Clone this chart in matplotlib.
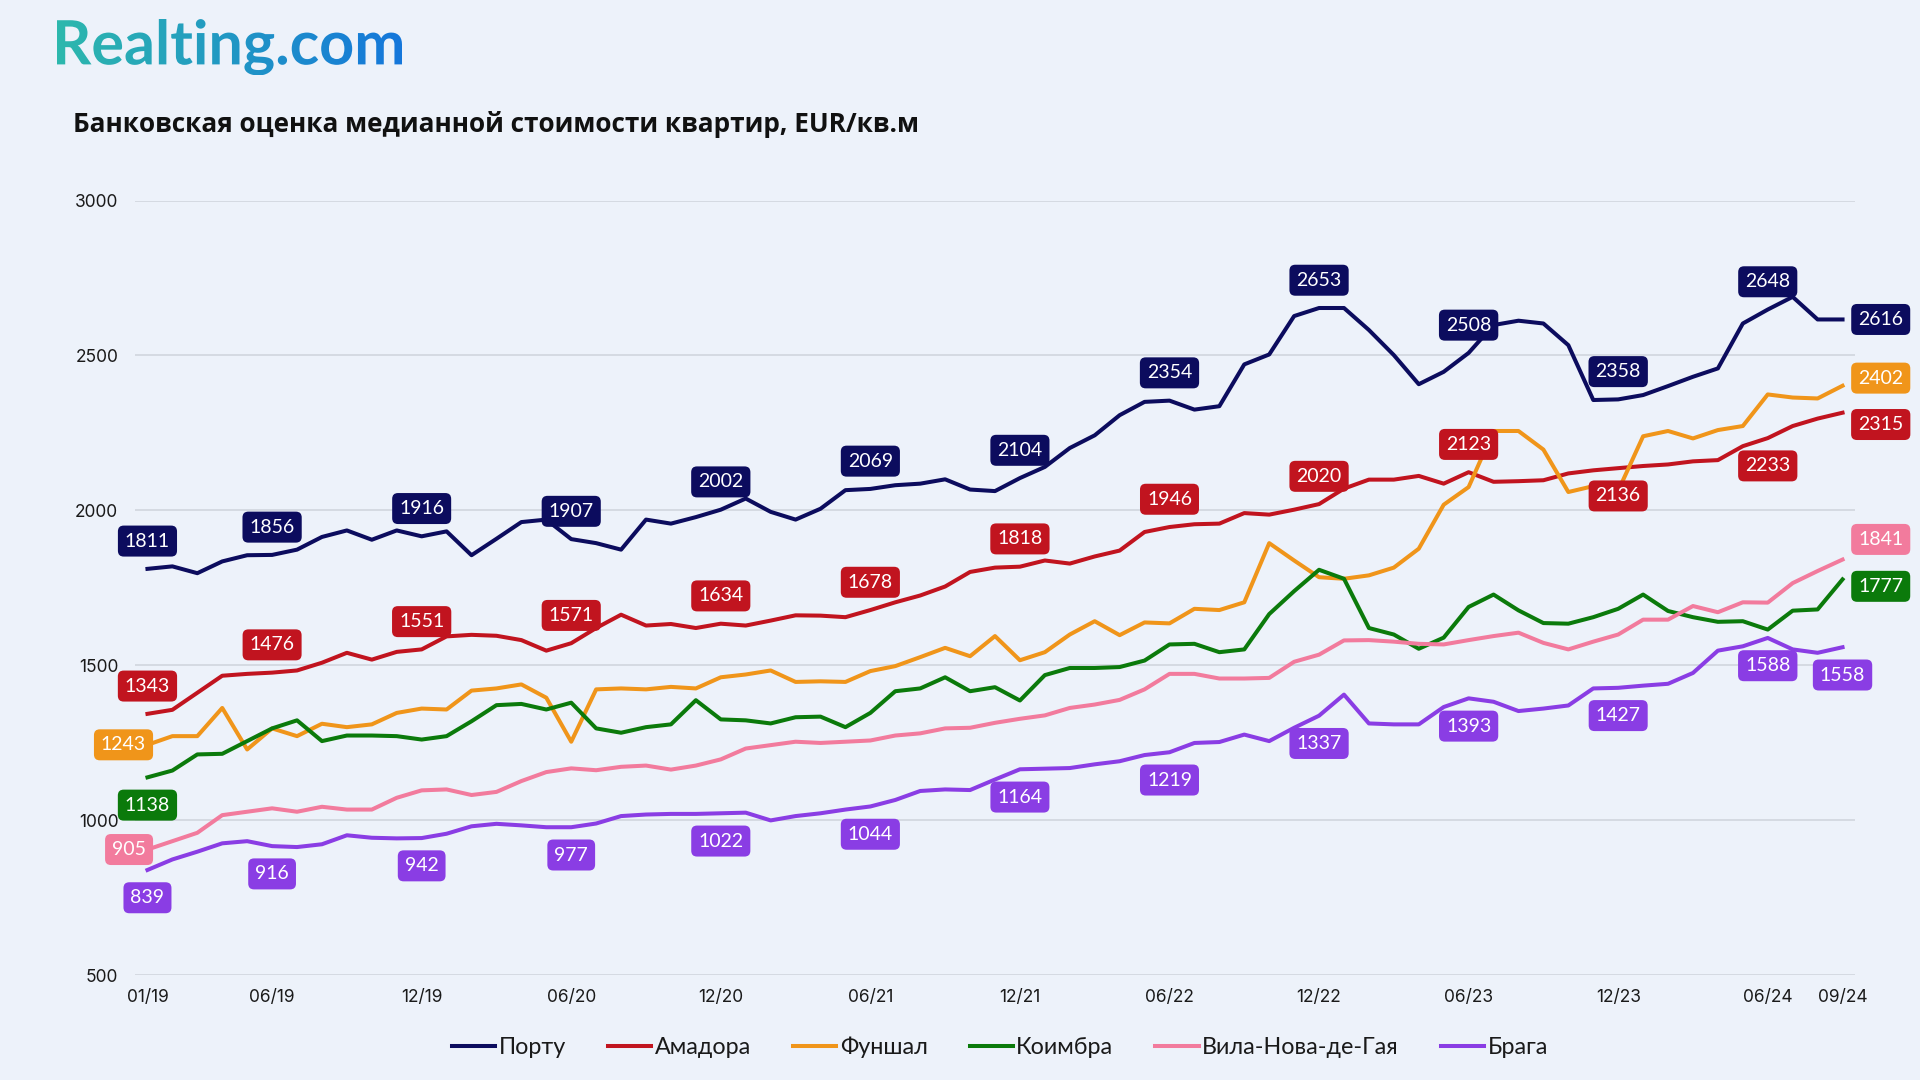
import numpy as np
import matplotlib
matplotlib.use("Agg")
import matplotlib.pyplot as plt
from matplotlib.textpath import TextPath
from matplotlib.patches import PathPatch
from matplotlib.font_manager import FontProperties
from matplotlib.colors import LinearSegmentedColormap

# %% data (EUR per sq.m, monthly 01/19 .. 09/24)
porto = [1811, 1819, 1797, 1835, 1855, 1856, 1873, 1914, 1935, 1905,
         1935, 1916, 1932, 1855, 1908, 1962, 1970, 1907, 1894, 1873,
         1970, 1957, 1978, 2002, 2038, 1995, 1970, 2005, 2065, 2069,
         2081, 2086, 2100, 2067, 2062, 2104, 2140, 2201, 2242, 2307,
         2350, 2354, 2325, 2336, 2471, 2503, 2627, 2653, 2653, 2582,
         2501, 2407, 2447, 2508, 2598, 2612, 2603, 2533, 2356, 2358,
         2372, 2401, 2431, 2458, 2603, 2648, 2689, 2616, 2616]
amadora = [1343, 1356, 1411, 1466, 1472, 1476, 1483, 1508, 1540, 1518,
           1543, 1551, 1593, 1598, 1595, 1581, 1547, 1571, 1620, 1663,
           1628, 1633, 1620, 1634, 1628, 1644, 1661, 1660, 1655, 1678,
           1703, 1725, 1754, 1801, 1815, 1818, 1838, 1828, 1851, 1870,
           1930, 1946, 1955, 1957, 1991, 1986, 2002, 2020, 2070, 2099,
           2099, 2111, 2086, 2123, 2092, 2094, 2097, 2119, 2129, 2136,
           2143, 2148, 2158, 2162, 2207, 2233, 2272, 2296, 2315]
funchal = [1243, 1271, 1271, 1362, 1228, 1296, 1271, 1311, 1300, 1309,
           1346, 1360, 1357, 1418, 1425, 1438, 1395, 1253, 1422, 1425,
           1422, 1430, 1425, 1461, 1470, 1483, 1446, 1448, 1446, 1481,
           1497, 1526, 1556, 1529, 1594, 1516, 1542, 1599, 1642, 1597,
           1638, 1635, 1682, 1678, 1703, 1894, 1838, 1784, 1779, 1790,
           1815, 1876, 2018, 2075, 2256, 2256, 2196, 2059, 2078, 2063,
           2239, 2256, 2232, 2259, 2272, 2374, 2364, 2361, 2402]
coimbra = [1138, 1160, 1212, 1214, 1255, 1296, 1322, 1255, 1273, 1273,
           1271, 1260, 1271, 1319, 1371, 1375, 1357, 1379, 1296, 1282,
           1300, 1309, 1387, 1325, 1322, 1312, 1332, 1334, 1300, 1346,
           1416, 1425, 1461, 1416, 1429, 1386, 1468, 1491, 1491, 1494,
           1515, 1567, 1569, 1542, 1551, 1665, 1739, 1808, 1779, 1620,
           1599, 1553, 1589, 1688, 1728, 1677, 1636, 1634, 1655, 1682,
           1728, 1675, 1655, 1640, 1642, 1615, 1676, 1680, 1777]
gaia = [905, 932, 959, 1016, 1027, 1038, 1027, 1043, 1034, 1034,
        1072, 1096, 1099, 1081, 1091, 1126, 1155, 1167, 1161, 1172,
        1176, 1163, 1176, 1196, 1231, 1242, 1253, 1249, 1253, 1257,
        1273, 1280, 1296, 1298, 1314, 1327, 1338, 1362, 1373, 1388,
        1422, 1472, 1472, 1457, 1457, 1459, 1511, 1534, 1580, 1581,
        1576, 1569, 1567, 1581, 1594, 1605, 1572, 1551, 1576, 1599,
        1647, 1647, 1691, 1671, 1703, 1702, 1765, 1804, 1841]
braga = [839, 873, 898, 925, 932, 916, 913, 922, 951, 943,
         941, 942, 956, 980, 988, 983, 977, 977, 989, 1013,
         1018, 1020, 1020, 1022, 1024, 999, 1013, 1022, 1034, 1044,
         1065, 1094, 1099, 1097, 1131, 1164, 1166, 1168, 1180, 1190,
         1210, 1219, 1249, 1252, 1276, 1255, 1298, 1337, 1405, 1312,
         1309, 1309, 1365, 1393, 1382, 1352, 1360, 1370, 1425, 1427,
         1434, 1440, 1475, 1547, 1561, 1588, 1551, 1540, 1558]

names = ["Порту", "Амадора", "Фуншал", "Коимбра", "Вила-Нова-де-Гая", "Брага"]
tick_pos = [0, 5, 11, 17, 23, 29, 35, 41, 47, 53, 59, 65, 68]
tick_labels = ["01/19", "06/19", "12/19", "06/20", "12/20", "06/21", "12/21",
               "06/22", "12/22", "06/23", "12/23", "06/24", "09/24"]
semi = [0, 5, 11, 17, 23, 29, 35, 41, 47, 53, 59, 65]

# value tags: (index, side, extra vertical nudge in points)
tags = {
    "Порту": [(i, "above", 0) for i in semi] + [(68, "right", 0)],
    "Амадора": [(i, "below" if i in (59, 65) else "above", 0) for i in semi] + [(68, "right", -8.5)],
    "Фуншал": [(0, "left", 0), (68, "right", 5.5)],
    "Коимбра": [(0, "below", 0), (68, "right", -5)],
    "Вила-Нова-де-Гая": [(0, "left", 0), (68, "right", 14.5)],
    "Брага": [(i, "below", 0) for i in semi] + [(68, "below", 0)],
}

colors = ["#0c0c5e", "#c1141f", "#f0951a", "#0b7a0b", "#f27b9d", "#8a3de4"]
BG = "#edf2fa"
FONT = "Lato"

# %% figure
fig = plt.figure(figsize=(19.2, 10.8), dpi=100, facecolor=BG)
ax = fig.add_axes([135 / 1920, 1 - 975 / 1080, 1720 / 1920, 774.5 / 1080])
ax.set_facecolor(BG)

x = np.arange(len(porto))
for name, vals, col in zip(names, [porto, amadora, funchal, coimbra, gaia, braga], colors):
    ax.plot(x, vals, color=col, lw=2.9, label=name, zorder=3)
    for i, side, dy in tags[name]:
        dx, oy = {"above": (0, 20), "below": (0, -20), "left": (-1, 0), "right": (27.5, 0)}[side]
        ax.annotate(f"{vals[i]}", (i, vals[i]), xytext=(dx, oy + dy), textcoords="offset points",
                    ha="right" if side == "left" else "center", va="center",
                    color="white", fontsize=14, family=FONT,
                    bbox=dict(boxstyle="round,pad=0.36,rounding_size=0.3", fc=col, ec="none"),
                    zorder=6, annotation_clip=False)

ax.set_xlim(-0.5, 68.5)
ax.set_ylim(500, 3000)
ax.set_yticks(range(500, 3001, 500))
ax.set_xticks(tick_pos)
ax.set_xticklabels(tick_labels)
ax.grid(axis="y", color="#d3d8e0", lw=1.3, zorder=0)
ax.tick_params(length=0, labelsize=12.5, colors="#1a1a1a")
ax.tick_params(axis="y", pad=12)
ax.tick_params(axis="x", pad=10)
for s in ax.spines.values():
    s.set_visible(False)
for t in ax.get_xticklabels() + ax.get_yticklabels():
    t.set_family("Inter")

fig.legend(loc="center", bbox_to_anchor=(1000 / 1920, 1 - 1047 / 1080), ncol=6, frameon=False,
           prop=FontProperties(family=FONT, size=16.8), handlelength=1.85, handletextpad=0.15,
           columnspacing=1.8, labelcolor="#1a1a1a")

fig.text(73 / 1920, 1 - 124 / 1080, "Банковская оценка медианной стоимости квартир, EUR/кв.м",
         fontsize=18.8, fontweight="bold", family="Open Sans", color="#111111", va="center", ha="left")

# %% logo with gradient fill
tp = TextPath((0, 0), "Realting.com", size=100, prop=FontProperties(family=FONT, weight="bold"))
bb = tp.get_extents()
w_px = 345
h_px = w_px * bb.height / bb.width
lax = fig.add_axes([57 / 1920, 1 - (19 + h_px) / 1080, w_px / 1920, h_px / 1080])
lax.set_xlim(bb.x0, bb.x1)
lax.set_ylim(bb.y0, bb.y1)
lax.axis("off")
cmap = LinearSegmentedColormap.from_list("logo", ["#2db8ad", "#1577db"])
im = lax.imshow(np.linspace(0, 1, 256).reshape(1, -1), cmap=cmap, aspect="auto",
                extent=[bb.x0, bb.x1, bb.y0, bb.y1])
patch = PathPatch(tp, transform=lax.transData, fc="none", ec="none")
lax.add_patch(patch)
im.set_clip_path(patch)

fig.savefig("out.png", dpi=100, facecolor=BG)
